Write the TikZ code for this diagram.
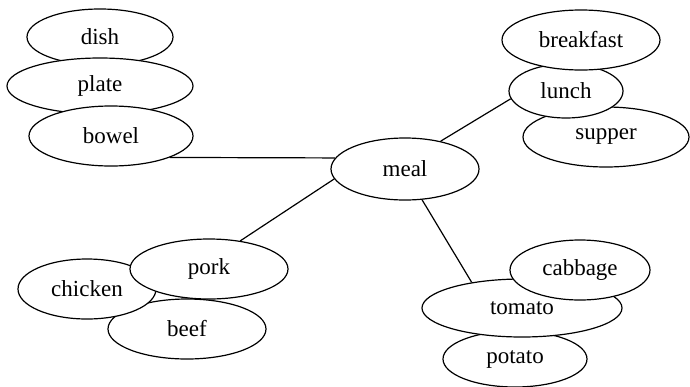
\documentclass[tikz,border=0pt]{standalone}
\usepackage{fontspec}
\setmainfont{Liberation Serif}
\usetikzlibrary{shapes.geometric}
\tikzset{
  bub/.style={ellipse, draw, fill=white, line width=1.2pt, inner sep=0pt, font=\fontsize{23}{27}\selectfont},
  link/.style={line width=1.2pt}
}
\begin{document}
\begin{tikzpicture}[x=1pt,y=-1pt]
\useasboundingbox (0,0) rectangle (690,386);
% left top group
\node[bub, minimum width=146pt, minimum height=56pt] (dish) at (100,37) {dish};
\node[bub, minimum width=186pt, minimum height=56pt] (plate) at (100,86) {plate};
\node[bub, minimum width=164pt, minimum height=60pt] (bowel) at (111,136) {bowel};
% right top group
\node[bub, minimum width=166pt, minimum height=60pt] (supper) at (606,137) {supper};
\node[bub, minimum width=114pt, minimum height=54pt] (lunch) at (566,91) {lunch};
\node[bub, minimum width=158pt, minimum height=60pt] (breakfast) at (581,40) {breakfast};
% centre
\node[bub, minimum width=148pt, minimum height=62pt] (meal) at (405,169) {meal};
% bottom left group
\node[bub, minimum width=158pt, minimum height=60pt] (beef) at (187,329) {beef};
\node[bub, minimum width=138pt, minimum height=60pt] (chicken) at (87,289) {chicken};
\node[bub, minimum width=158pt, minimum height=60pt] (pork) at (209,269) {pork};
% bottom right group
\node[bub, minimum width=144pt, minimum height=56pt] (potato) at (515,359) {potato};
\node[bub, minimum width=200pt, minimum height=58pt] (tomato) at (522,308) {tomato};
\node[bub, minimum width=140pt, minimum height=60pt] (cabbage) at (580,270) {cabbage};
% connectors
\draw[link] (bowel.-20) -- (meal.171);
\draw[link] (meal.38) -- (lunch.-172);
\draw[link] (meal.188) -- (pork.42);
\draw[link] (meal.-61) -- (tomato.153);
\end{tikzpicture}
\end{document}
